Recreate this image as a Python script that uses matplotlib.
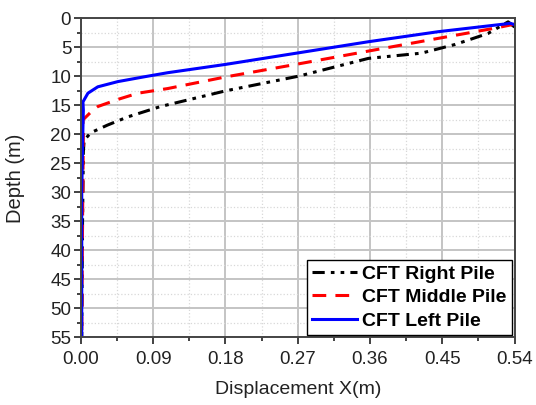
import matplotlib
matplotlib.use("Agg")
import matplotlib.pyplot as plt
from matplotlib.ticker import MultipleLocator

plt.rcParams['font.family'] = ['Liberation Sans', 'DejaVu Sans']

# displacement (m) vs depth (m) for each pile
right_disp = [0.540, 0.532, 0.507, 0.466, 0.424, 0.358, 0.2715, 0.18, 0.099, 0.058, 0.033,
              0.0124, 0.004, 0.003, 0.002, 0.001]
right_depth = [1.5, 0.6, 2.6, 4.5, 6.0, 6.9, 9.95, 12.5, 15.2, 17.0, 18.4,
               19.7, 21.0, 23.0, 35.0, 55.0]

middle_disp = [0.540, 0.519, 0.445, 0.358, 0.263, 0.18, 0.108, 0.071, 0.046, 0.021, 0.015,
               0.0025, 0.003, 0.002, 0.001]
middle_depth = [1.0, 1.6, 3.45, 5.64, 8.05, 10.1, 12.1, 12.9, 13.97, 15.2, 15.8,
                17.5, 20.0, 35.0, 55.0]

left_disp = [0.540, 0.535, 0.445, 0.358, 0.2715, 0.18, 0.108, 0.079, 0.046, 0.021, 0.0087,
             0.0025, 0.003, 0.0025, 0.001, 0.001]
left_depth = [1.1, 0.86, 2.3, 4.03, 5.93, 7.94, 9.37, 10.07, 10.9, 11.8, 12.9,
              14.4, 15.8, 18.8, 30.0, 55.0]

fig = plt.figure(figsize=(5.36, 4.05), dpi=100)
ax = fig.add_axes([0.151, 0.1667, 0.809, 0.788])

ax.plot(right_disp, right_depth, color='black', lw=2.2,
        linestyle=(0, (4, 2, 1.2, 2, 1.2, 2)), label='CFT Right Pile')
ax.plot(middle_disp, middle_depth, color='red', lw=2.2,
        linestyle=(0, (4.5, 3)), label='CFT Middle Pile')
ax.plot(left_disp, left_depth, color='blue', lw=2.2, label='CFT Left Pile')

ax.set_xlim(0, 0.54)
ax.set_ylim(55, 0)
ax.xaxis.set_major_locator(MultipleLocator(0.09))
ax.xaxis.set_minor_locator(MultipleLocator(0.045))
ax.yaxis.set_major_locator(MultipleLocator(5))
ax.yaxis.set_minor_locator(MultipleLocator(2.5))
ax.set_xticklabels([f'{v:.2f}' for v in ax.get_xticks()])

ax.grid(which='major', color='#c4c4c4', lw=1.4)
ax.grid(which='minor', color='#d8d8d8', lw=0.9, linestyle=':')
ax.set_axisbelow(True)

ax.tick_params(which='both', direction='out', labelsize=13.5, width=1.3, colors='#333333',
               labelcolor='#222222')
ax.tick_params(which='major', length=5, pad=2)
ax.tick_params(axis='x', which='major', pad=5)
ax.tick_params(which='minor', length=3)
for s in ax.spines.values():
    s.set_linewidth(1.4)
    s.set_color('#444444')

ax.set_xlabel('Displacement X(m)', fontsize=14, color='#222222', labelpad=9)
ax.set_ylabel('Depth (m)', fontsize=14.5, color='#222222', labelpad=18)

leg = ax.legend(loc='lower right', fancybox=False, framealpha=1, edgecolor='black',
                prop={'weight': 'bold', 'size': 14}, handlelength=2.3, handletextpad=0.3,
                borderaxespad=0.15, labelspacing=0.3, borderpad=0.25)
leg.get_frame().set_linewidth(1.0)

fig.savefig('out.png', dpi=100)
